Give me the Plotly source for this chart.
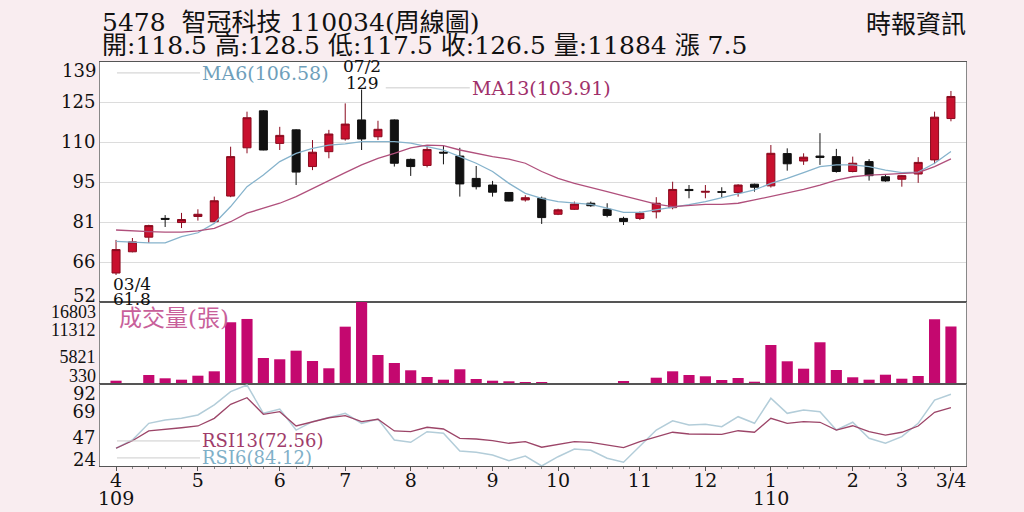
import plotly.graph_objects as go
from plotly.subplots import make_subplots

# weekly candles, 109/03 week 4 -> 110/03 week 4
weeks = list(range(52))
opens = [62.5, 70.2, 75.5, 82.3, 80.8, 83.0, 81.1, 90.4, 107.9, 121.3,
         109.5, 114.4, 101.1, 106.5, 111.1, 118.0, 111.9, 118.0, 103.7, 101.5,
         106.3, 104.9, 96.8, 94.4, 91.7, 89.0, 89.6, 83.8, 85.6, 87.8,
         85.6, 82.3, 82.3, 84.7, 86.2, 92.8, 91.8, 92.0, 91.7, 94.7,
         94.1, 105.8, 103.1, 104.9, 104.7, 99.3, 102.9, 97.4, 96.5, 98.4,
         103.5, 118.5]
highs = [74.5, 75.2, 80.0, 83.5, 84.3, 85.6, 90.2, 108.3, 121.0, 121.5,
         115.5, 114.6, 110.7, 114.4, 124.0, 129.0, 117.7, 118.2, 104.0, 108.9,
         108.9, 107.9, 101.3, 95.9, 91.8, 90.7, 90.2, 85.8, 88.4, 88.4,
         87.8, 82.9, 84.8, 90.0, 95.6, 94.4, 94.4, 93.6, 94.7, 94.9,
         108.9, 107.7, 105.9, 113.2, 107.5, 104.7, 103.8, 98.2, 98.0, 104.5,
         121.0, 128.5]
lows = [61.8, 70.0, 73.4, 79.2, 78.8, 81.5, 81.0, 90.0, 105.9, 107.0,
        107.1, 94.4, 99.8, 104.1, 110.5, 107.1, 110.7, 101.1, 97.7, 100.8,
        101.9, 90.2, 92.8, 90.2, 88.5, 88.4, 80.3, 83.5, 85.4, 86.5,
        82.7, 79.9, 81.7, 82.3, 85.6, 89.6, 89.6, 90.0, 90.2, 92.0,
        93.5, 99.6, 101.7, 101.7, 98.9, 99.0, 96.0, 95.6, 93.8, 95.2,
        102.0, 117.5]
closes = [71.0, 73.8, 79.7, 82.0, 81.9, 83.8, 88.7, 104.7, 118.8, 107.1,
          112.4, 99.1, 106.3, 112.9, 116.5, 111.1, 114.6, 102.3, 101.1, 107.3,
          106.0, 94.8, 93.8, 91.8, 88.6, 89.8, 82.6, 85.4, 87.5, 86.9,
          83.4, 81.2, 84.2, 87.8, 92.8, 92.4, 92.1, 91.8, 94.4, 93.6,
          105.9, 102.1, 104.5, 104.4, 99.3, 102.3, 97.8, 95.9, 97.8, 102.6,
          119.0, 126.5]
ma6 = [74.0, 73.6, 73.4, 73.4, 75.7, 77.1, 80.5, 86.6, 93.8, 98.0,
       102.9, 105.9, 107.7, 108.9, 109.3, 110.1, 110.1, 110.1, 109.6, 108.3,
       107.1, 104.7, 102.3, 99.3, 95.0, 91.4, 89.6, 88.4, 87.8, 87.4,
       86.0, 84.5, 84.5, 85.4, 86.3, 87.3, 88.4, 89.8, 91.1, 92.6,
       95.0, 96.8, 98.9, 101.1, 101.7, 101.7, 101.1, 99.8, 98.9, 99.1,
       102.3, 106.58]
ma13 = [78.1, 77.7, 77.5, 77.3, 77.3, 77.8, 78.7, 81.1, 84.2, 86.0,
        87.8, 90.2, 93.2, 96.2, 98.9, 101.7, 104.1, 105.9, 107.9, 108.9,
        108.7, 107.1, 105.9, 104.7, 103.8, 102.3, 99.3, 96.8, 95.0, 93.4,
        92.0, 90.5, 89.0, 87.5, 86.6, 87.0, 87.4, 87.4, 87.8, 89.0,
        90.2, 91.6, 92.8, 94.4, 96.2, 97.4, 98.0, 98.3, 98.6, 98.9,
        101.1, 103.91]
volume = [993, 470, 2140, 1475, 1195, 1998, 2880, 12730, 13395, 5556,
          5295, 7023, 4953, 3486, 11847, 16803, 6159, 4551, 3084, 1737,
          1195, 3285, 1335, 993, 873, 732, 732, 350, 340, 380,
          470, 933, 390, 1596, 2880, 2140, 1878, 1134, 1536, 792,
          8169, 4893, 3405, 8712, 3144, 1677, 1195, 2199, 1395, 1938,
          13335, 11884]
rsi6 = [37.6, 44.7, 59.1, 62.0, 63.4, 66.3, 75.0, 86.4, 92.1, 67.7,
        71.4, 53.3, 60.5, 63.9, 67.7, 59.1, 62.8, 44.7, 42.7, 51.9,
        50.5, 35.2, 34.1, 31.8, 26.9, 30.9, 22.3, 30.3, 37.0, 35.8,
        29.0, 25.5, 39.0, 53.3, 61.3, 57.6, 58.2, 56.2, 64.8, 59.1,
        80.7, 67.7, 70.6, 69.1, 53.3, 60.0, 46.2, 41.9, 47.6, 59.1,
        79.2, 84.12]
rsi13 = [37.6, 44.1, 52.5, 54.2, 55.3, 56.8, 63.4, 75.5, 81.2, 66.9,
         69.1, 56.8, 60.5, 63.9, 65.7, 60.5, 62.6, 52.5, 51.9, 55.7,
         54.2, 46.2, 45.6, 44.1, 41.9, 43.3, 38.5, 41.0, 43.3, 42.7,
         40.4, 38.1, 43.3, 47.6, 51.4, 49.9, 49.9, 49.6, 52.7, 51.4,
         63.4, 59.1, 60.5, 60.0, 53.3, 57.0, 51.9, 49.0, 51.4, 56.8,
         68.6, 72.56]

month_pos = [0, 5, 10, 14, 18, 23, 27, 32, 36, 40, 45, 48, 51]
month_text = ['4', '5', '6', '7', '8', '9', '10', '11', '12', '1', '2', '3', '3/4']
year_pos = [0, 40]
year_text = ['109', '110']
price_ticks = [52, 66.5, 81, 95.5, 110, 124.5, 139]
price_text = ['52', '66', '81', '95', '110', '125', '139']
vol_ticks = [330, 5821, 11312, 16803]
rsi_ticks = [24, 47, 69, 92]

SERIF = 'DejaVu Serif, Noto Sans CJK TC'
NARROW = 'Liberation Serif'
CJK = 'DejaVu Serif, Noto Sans CJK TC'
PINK_BG = '#f9edf0'

fig = make_subplots(rows=3, cols=1, shared_xaxes=True, vertical_spacing=0,
                    row_heights=[240, 82, 82])

fig.add_trace(go.Candlestick(x=weeks, open=opens, high=highs, low=lows, close=closes,
                             increasing=dict(line=dict(color='#8a0a1e', width=1), fillcolor='#c8102e'),
                             decreasing=dict(line=dict(color='#111111', width=1), fillcolor='#111111'),
                             whiskerwidth=0, showlegend=False), row=1, col=1)
fig.add_trace(go.Scatter(x=weeks, y=ma6, mode='lines', line=dict(color='#86b3cc', width=1.3),
                         showlegend=False), row=1, col=1)
fig.add_trace(go.Scatter(x=weeks, y=ma13, mode='lines', line=dict(color='#b0507c', width=1.3),
                         showlegend=False), row=1, col=1)

fig.add_trace(go.Bar(x=weeks, y=volume, marker=dict(color='#c4086f', line=dict(width=0)),
                     width=0.68, showlegend=False), row=2, col=1)

fig.add_trace(go.Scatter(x=weeks, y=rsi6, mode='lines', line=dict(color='#b3cdd9', width=1.5),
                         showlegend=False), row=3, col=1)
fig.add_trace(go.Scatter(x=weeks, y=rsi13, mode='lines', line=dict(color='#9c4568', width=1.3),
                         showlegend=False), row=3, col=1)

fig.update_xaxes(range=[-0.98, 51.92], showgrid=False, zeroline=False, rangeslider_visible=False,
                 showline=True, linecolor='#555555', linewidth=1, mirror=True, automargin=False,
                 tickmode='array', tickvals=month_pos, ticktext=month_text,
                 showticklabels=False)
fig.update_xaxes(showticklabels=True, ticks='outside', ticklen=4, tickcolor='#555555',
                 ticklabelstandoff=-7,
                 minor=dict(tickvals=weeks, ticks='outside', ticklen=2, tickcolor='#888888'),
                 tickfont=dict(family=SERIF, size=19, color='#111111'), row=3, col=1)
for xv, txt in zip(year_pos, year_text):
    fig.add_annotation(x=xv, xref='x3', y=0, yref='paper', yanchor='middle', yshift=-32,
                       text=txt, showarrow=False,
                       font=dict(family=SERIF, size=19, color='#111111'))

ytick_font = dict(family=SERIF, size=18, color='#111111')
vtick_font = dict(family=NARROW, size=18, color='#111111')
fig.update_yaxes(automargin=False, zeroline=False, showline=True, linecolor='#888888',
                 mirror=True, ticks='', tickmode='array')
fig.update_yaxes(range=[52, 139], tickvals=price_ticks,
                 ticktext=[''] + price_text[1:-1] + [''],
                 showgrid=True, gridcolor='#dcdcdc', gridwidth=1,
                 tickfont=ytick_font, row=1, col=1)
fig.update_yaxes(range=[330, 16803], tickvals=vol_ticks,
                 ticktext=['', str(vol_ticks[1]), str(vol_ticks[2]), ''],
                 showgrid=False, tickfont=vtick_font, row=2, col=1)
fig.update_yaxes(range=[22.3, 93], tickvals=rsi_ticks,
                 ticktext=['', str(rsi_ticks[1]), str(rsi_ticks[2]), ''],
                 showgrid=False, tickfont=ytick_font, row=3, col=1)

# edge tick labels, nudged inside like the original
edge_labels = [('y', price_ticks[-1], price_text[-1], -8, ytick_font),
               ('y', price_ticks[0], price_text[0], 7, ytick_font),
               ('y2', vol_ticks[-1], str(vol_ticks[-1]), -10, vtick_font),
               ('y2', vol_ticks[0], str(vol_ticks[0]), 8, vtick_font),
               ('y3', rsi_ticks[-1], str(rsi_ticks[-1]), -8, ytick_font),
               ('y3', rsi_ticks[0], str(rsi_ticks[0]), 5, ytick_font)]
for yref, val, txt, shift, fnt in edge_labels:
    fig.add_annotation(x=0, xref='paper', xanchor='right', xshift=-2, y=val, yref=yref,
                       yshift=shift, text=txt, showarrow=False, font=fnt)

# header built from the last week
last = len(closes) - 1
chg = closes[last] - closes[last - 1]
head_font = dict(family=CJK, size=25, color='#111111')
fig.add_annotation(x=0, xref='paper', y=1, yref='paper', yanchor='middle', yshift=40,
                   xanchor='left', xshift=0, text='5478  智冠科技 110034(周線圖)',
                   showarrow=False, font=head_font)
fig.add_annotation(x=0, xref='paper', y=1, yref='paper', yanchor='middle', yshift=17,
                   xanchor='left',
                   text=f'開:{opens[last]} 高:{highs[last]} 低:{lows[last]} 收:{closes[last]} '
                        f'量:{volume[last]} 漲 {chg:.1f}',
                   showarrow=False, font=head_font)
fig.add_annotation(x=1, xref='paper', y=1, yref='paper', yanchor='middle', yshift=38,
                   xanchor='right', xshift=2, text='時報資訊', showarrow=False, font=head_font)

# legends drawn as line + text
legend_font = 18
fig.add_shape(type='line', xref='paper', yref='paper', x0=0.0196, x1=0.1155, y0=0.973, y1=0.973,
              line=dict(color='#cccccc', width=1))
fig.add_annotation(x=0.1155, xref='paper', y=0.973, yref='paper', xanchor='left', yanchor='middle',
                   showarrow=False, text=f'MA6({ma6[-1]:.2f})',
                   font=dict(family=SERIF, size=legend_font + 1, color='#6f9fbb'))
fig.add_shape(type='line', xref='paper', yref='paper', x0=0.33, x1=0.427, y0=0.936, y1=0.936,
              line=dict(color='#cccccc', width=1))
fig.add_annotation(x=0.427, xref='paper', y=0.936, yref='paper', xanchor='left', yanchor='middle',
                   showarrow=False, text=f'MA13({ma13[-1]:.2f})',
                   font=dict(family=SERIF, size=legend_font + 1, color='#a0306a'))

fig.add_annotation(x=0.0196, xref='paper', y=0.403, yref='paper', xanchor='left', yanchor='top',
                   showarrow=False, text='成交量(張)',
                   font=dict(family=CJK, size=23, color='#c8609a'))

fig.add_shape(type='line', xref='paper', yref='paper', x0=0.0196, x1=0.1155, y0=0.062, y1=0.062,
              line=dict(color='#cccccc', width=1))
fig.add_annotation(x=0.1155, xref='paper', y=0.062, yref='paper', xanchor='left', yanchor='middle',
                   showarrow=False, text=f'RSI13({rsi13[-1]:.2f})',
                   font=dict(family=SERIF, size=legend_font, color='#a03c6a'))
fig.add_shape(type='line', xref='paper', yref='paper', x0=0.0196, x1=0.1155, y0=0.02, y1=0.02,
              line=dict(color='#cccccc', width=1))
fig.add_annotation(x=0.1155, xref='paper', y=0.02, yref='paper', xanchor='left', yanchor='middle',
                   showarrow=False, text=f'RSI6({rsi6[-1]:.2f})',
                   font=dict(family=SERIF, size=legend_font, color='#7fb0c8'))

# high / low marks
hi = highs.index(max(highs))
lo = lows.index(min(lows))
mark_font = dict(family=SERIF, size=17, color='#111111')
fig.add_annotation(x=hi, y=highs[hi], xref='x', yref='y', yanchor='middle', yshift=7,
                   showarrow=False, text=f'{highs[hi]:g}', font=mark_font)
fig.add_annotation(x=hi, y=highs[hi], xref='x', yref='y', yanchor='middle', yshift=24,
                   showarrow=False, text='07/2', font=mark_font)
fig.add_annotation(x=lo - 0.3, y=lows[lo], xref='x', yref='y', xanchor='left', yanchor='middle',
                   yshift=-9, showarrow=False, text='03/4', font=mark_font)
fig.add_annotation(x=lo - 0.3, y=lows[lo], xref='x', yref='y', xanchor='left', yanchor='middle',
                   yshift=-24, showarrow=False, text=f'{lows[lo]:g}', font=mark_font)

fig.update_layout(width=1024, height=512, margin=dict(l=100, r=58, t=62, b=46),
                  paper_bgcolor=PINK_BG, plot_bgcolor='white', bargap=0.3, boxgap=0.3,
                  showlegend=False)

# page body has a default 8px margin; drop it so the figure fills the window
fig.write_html('out.html', config={'displayModeBar': False},
               post_script="document.body.style.margin='0';")
